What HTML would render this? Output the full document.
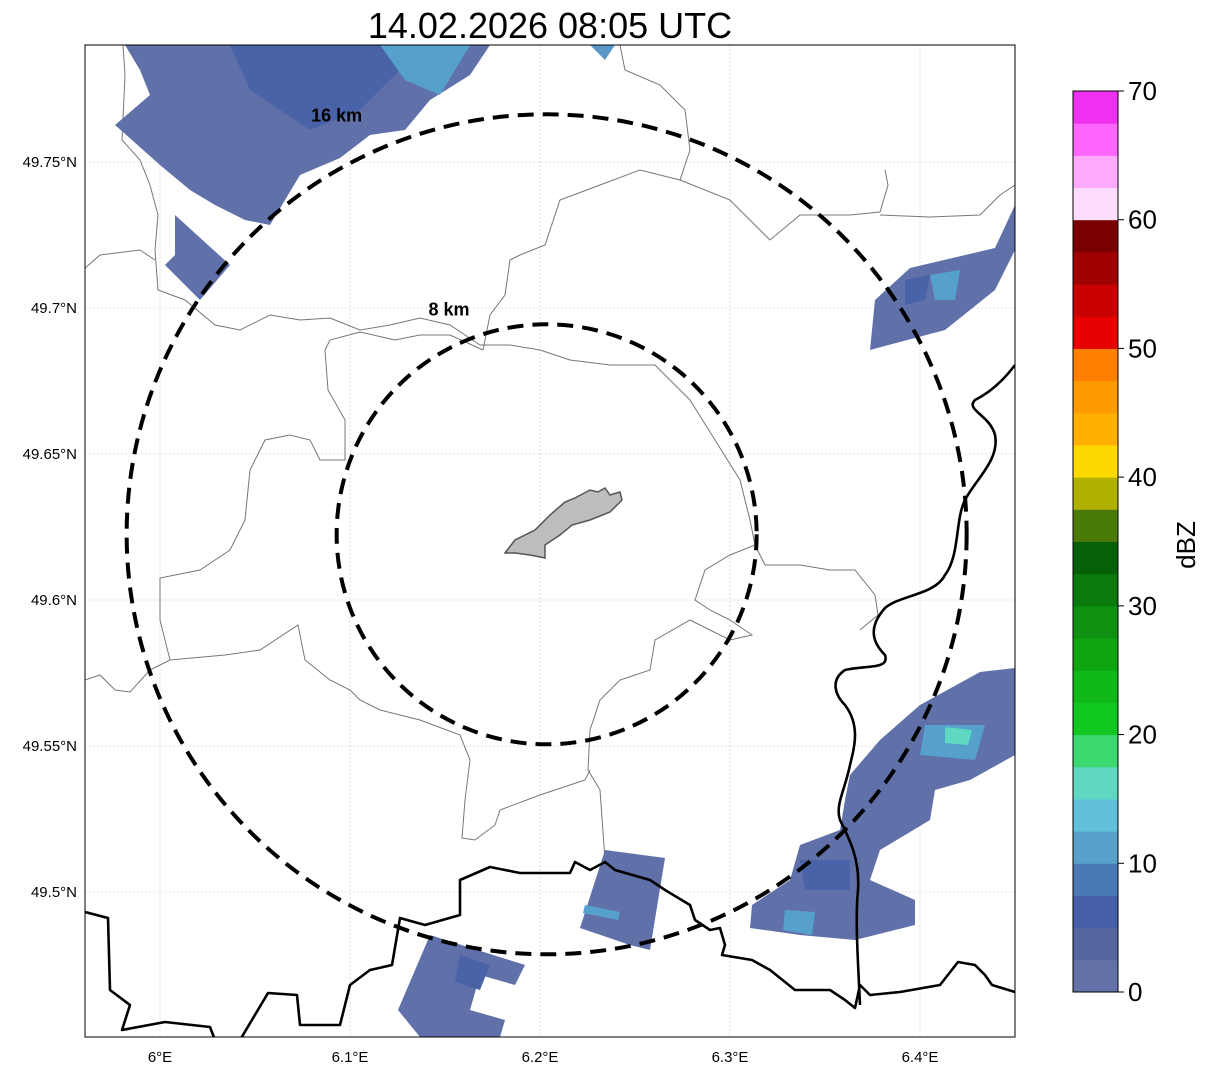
<!DOCTYPE html>
<html><head><meta charset="utf-8">
<style>
html,body{margin:0;padding:0;background:#fff;}
svg{display:block;font-family:"Liberation Sans","DejaVu Sans",sans-serif;}
</style></head>
<body>
<svg id="chart" width="1207" height="1073" viewBox="0 0 1207 1073">
  <text x="550" y="38" font-size="36" text-anchor="middle">14.02.2026 08:05 UTC</text>
  <defs><clipPath id="mapclip"><rect x="85" y="45" width="930" height="992"/></clipPath></defs>
  <g id="map" clip-path="url(#mapclip)">
    <g id="grid"></g>
    <g id="admin" fill="none" stroke="#777" stroke-width="1">
      <polyline points="123,45 125,75 122,140 140,160 150,185 158,215 155,250 158,290 185,300 215,325 240,330 270,315 300,320 330,318 360,330 390,325 420,318 450,325 480,345 510,345 540,350 570,360 610,365 655,365 690,400 715,440 740,480 750,520 755,545"/>
      <polyline points="85,268 100,255 140,250 155,260"/>
      <polyline points="620,45 625,70 660,85 685,110 690,150 680,180 640,170 600,185 560,200 545,245 520,255 510,260 505,295 490,315 483,350"/>
      <polyline points="680,180 730,200 770,240 800,215 850,215 880,212 888,185 885,170"/>
      <polyline points="880,215 930,217 980,215 1000,195 1015,185"/>
      <polyline points="755,545 765,565 800,565 830,570 855,570 875,595 878,615 860,630"/>
      <polyline points="755,545 730,555 705,570 695,600 710,610 730,620 752,635 730,640 690,620 655,640 650,670 620,680 600,700 590,730 588,770 600,790 605,860"/>
      <polyline points="325,350 328,390 345,420 345,460 320,460 310,440 290,435 265,440 250,470 245,520 230,550 200,570 160,578 160,620 170,660 225,655 260,650 298,625 305,660 330,680 350,690 360,700 380,710 420,720 460,735 470,760 465,800 462,838 475,840 495,825 500,810 540,795 585,780 590,770"/>
      <polyline points="85,680 100,675 115,690 130,692 150,670 170,660"/>
      <polyline points="483,350 450,335 420,335 395,340 360,332 330,340 325,350"/>
    </g>
    <g id="radar">
      <polygon fill="#6070a8" points="125,45 490,45 470,75 430,100 405,130 370,135 340,158 300,175 270,225 245,220 215,205 190,190 160,165 115,125 150,95 140,70"/>
      <polygon fill="#6070a8" points="175,215 230,265 200,300 165,265 175,255"/>
      <polygon fill="#4a62a8" points="230,45 380,45 400,70 360,110 310,130 280,110 250,90"/>
      <polygon fill="#56a0cc" points="380,45 470,45 440,95 405,80"/>
      <polygon fill="#5a98ca" points="590,45 615,45 605,60"/>
      <polygon fill="#6070a8" points="910,268 995,248 1015,205 1015,250 995,290 945,330 870,350 875,300"/>
      <polygon fill="#56a0cc" points="930,275 960,270 955,300 935,300"/>
      <polygon fill="#4a62a8" points="905,280 930,275 925,300 905,305"/>
      <polygon fill="#6070a8" points="980,672 1015,668 1015,755 970,780 935,790 930,820 880,850 870,880 915,900 915,925 855,940 800,935 750,928 752,905 790,880 800,845 840,830 845,800 850,775 880,740 920,705"/>
      <polygon fill="#56a0cc" points="925,725 985,725 975,760 920,755"/>
      <polygon fill="#5ed8c0" points="945,727 972,730 968,745 945,743"/>
      <polygon fill="#56a0cc" points="785,910 815,912 812,935 783,930"/>
      <polygon fill="#4a62a8" points="800,860 850,860 850,890 805,890"/>
      <polygon fill="#6070a8" points="605,850 665,858 650,950 630,945 580,928"/>
      <polygon fill="#56a0cc" points="585,905 620,912 618,920 583,913"/>
      <polygon fill="#6070a8" points="430,935 525,965 515,985 480,975 470,1010 505,1020 500,1037 420,1037 398,1010"/>
      <polygon fill="#4a62a8" points="460,955 490,965 480,990 455,982"/>
    </g>
    <g id="borders" fill="none" stroke="#000" stroke-width="2.6" stroke-linejoin="round">
      <polyline points="85,912 108,918 110,990 130,1005 122,1030 165,1022 210,1027 215,1040"/>
      <polyline points="240,1040 268,993 297,995 300,1025 340,1025 350,985 370,970 392,965 400,918 425,925 460,915 460,880 490,867 520,873 570,873 575,862 590,870 605,862 615,870 650,880 665,890 690,905 695,920 710,930 720,928 725,945 722,955 752,960 770,970 795,990 830,990 845,1000 855,1008 860,985 870,995 900,992 940,985 958,962 975,965 985,975 992,985 1015,992"/>
      <path d="M1015,365 C1000,385 985,395 975,400 C965,410 990,415 995,435 C1000,460 975,480 965,500 C955,520 960,555 945,575 C935,595 900,595 885,608 C870,625 870,640 885,655 C890,670 865,665 845,670 C830,680 835,695 845,705 C860,725 855,745 850,765 C845,790 835,805 840,820 C850,840 860,860 858,890 C855,920 858,960 860,1005"/>
    </g>
    <polygon fill="#bdbdbd" stroke="#555" stroke-width="1.5" points="505,553 515,540 535,530 550,515 565,502 575,498 590,490 598,492 605,488 610,495 620,492 622,500 610,512 590,520 572,525 560,535 545,545 545,558 530,555 515,553"/>
    <g id="rings"></g>
  </g>
  <rect x="85" y="45" width="930" height="992" fill="none" stroke="#000" stroke-width="1"/>
  <g id="axes" font-size="15"></g>
  <g id="colorbar"></g>
  <text x="1195" y="545" font-size="26" text-anchor="middle" transform="rotate(-90 1195 545)">dBZ</text>
</svg>
<script>
const lonTicks = [6.0, 6.1, 6.2, 6.3, 6.4];
const lonLabels = ["6°E", "6.1°E", "6.2°E", "6.3°E", "6.4°E"];
const latTicks = [49.75, 49.7, 49.65, 49.6, 49.55, 49.5];
const latLabels = ["49.75°N", "49.7°N", "49.65°N", "49.6°N", "49.55°N", "49.5°N"];
const ringRadiiKm = [8, 16];
const ringLabels = ["8 km", "16 km"];
const radarLon = 6.2035;
const radarLat = 49.6225;
const cbLevels = [0,2.5,5,7.5,10,12.5,15,17.5,20,22.5,25,27.5,30,32.5,35,37.5,40,42.5,45,47.5,50,52.5,55,57.5,60,62.5,65,67.5,70];
const cbColors = ["#6272a8","#5565a0","#4560a8","#4a7ab5","#58a0cc","#62c0dc","#5ed8c0","#3cd870","#10c820","#10b818","#0ea510","#0e9010","#0a7a0c","#066008","#4a7a08","#b0b000","#ffd800","#ffb000","#ff9900","#ff7f00","#e60000","#c80000","#a00000","#780000","#ffddff","#ffaaff","#ff66ff","#f030f0"];
const cbTicks = [0,10,20,30,40,50,60,70];

const NS="http://www.w3.org/2000/svg";
function X(lon){return 160+(lon-6)*1900;}
function Y(lat){return 892-(lat-49.5)*2920;}
function mk(tag,attrs,parent){const e=document.createElementNS(NS,tag);for(const k in attrs)e.setAttribute(k,attrs[k]);parent.appendChild(e);return e;}
const grid=document.getElementById('grid'), axes=document.getElementById('axes');
lonTicks.forEach((v,i)=>{
  const l=mk('line',{x1:X(v),x2:X(v),y1:45,y2:1037,stroke:'#c8c8c8','stroke-width':0.6,'stroke-dasharray':'2,2'},grid);
  
  
  const t=mk('text',{x:X(v),y:1062,'text-anchor':'middle'},axes);
  t.textContent=lonLabels[i];
  
  
});
latTicks.forEach((v,i)=>{
  const l=mk('line',{x1:85,x2:1015,y1:Y(v),y2:Y(v),stroke:'#c8c8c8','stroke-width':0.6,'stroke-dasharray':'2,2'},grid);
  
  
  const t=mk('text',{x:77,y:Y(v)+5,'text-anchor':'end'},axes);
  t.textContent=latLabels[i];
  
  
});
const rings=document.getElementById('rings');
const cx=X(radarLon), cy=Y(radarLat);
const pxPerKm=420/16;
ringRadiiKm.forEach((r,i)=>{
  const R=r*pxPerKm;
  const c=mk('circle',{cx:cx,cy:cy,r:R,fill:'none',stroke:'#000','stroke-width':4,'stroke-dasharray':'16,9'},rings);
  
  
  const big=r>10;
  const t=mk('text',{x:cx-R*(big?0.5:0.465),y:cy-R+(big?7:-9),'font-size':18,'font-weight':'bold','text-anchor':'middle'},rings);
  t.textContent=ringLabels[i];
  
  
});
const cb=document.getElementById('colorbar');
const cbTop=91, cbBot=992, cbX=1073, cbW=45;
function CY(v){return cbBot-(v-cbLevels[0])/(cbLevels[cbLevels.length-1]-cbLevels[0])*(cbBot-cbTop);}
cbColors.forEach((col,i)=>{
  const r=mk('rect',{x:cbX,y:CY(cbLevels[i+1]),width:cbW,height:CY(cbLevels[i])-CY(cbLevels[i+1])+0.5,fill:col},cb);
  
  
});
mk('rect',{x:cbX,y:cbTop,width:cbW,height:cbBot-cbTop,fill:'none',stroke:'#000','stroke-width':1},cb);
cbTicks.forEach(v=>{
  mk('line',{x1:cbX+cbW,x2:cbX+cbW+6,y1:CY(v),y2:CY(v),stroke:'#000','stroke-width':1},cb);
  const t=mk('text',{x:cbX+cbW+10,y:CY(v)+9,'font-size':26},cb);
  t.textContent=v;
  
  
});
</script>
</body></html>
